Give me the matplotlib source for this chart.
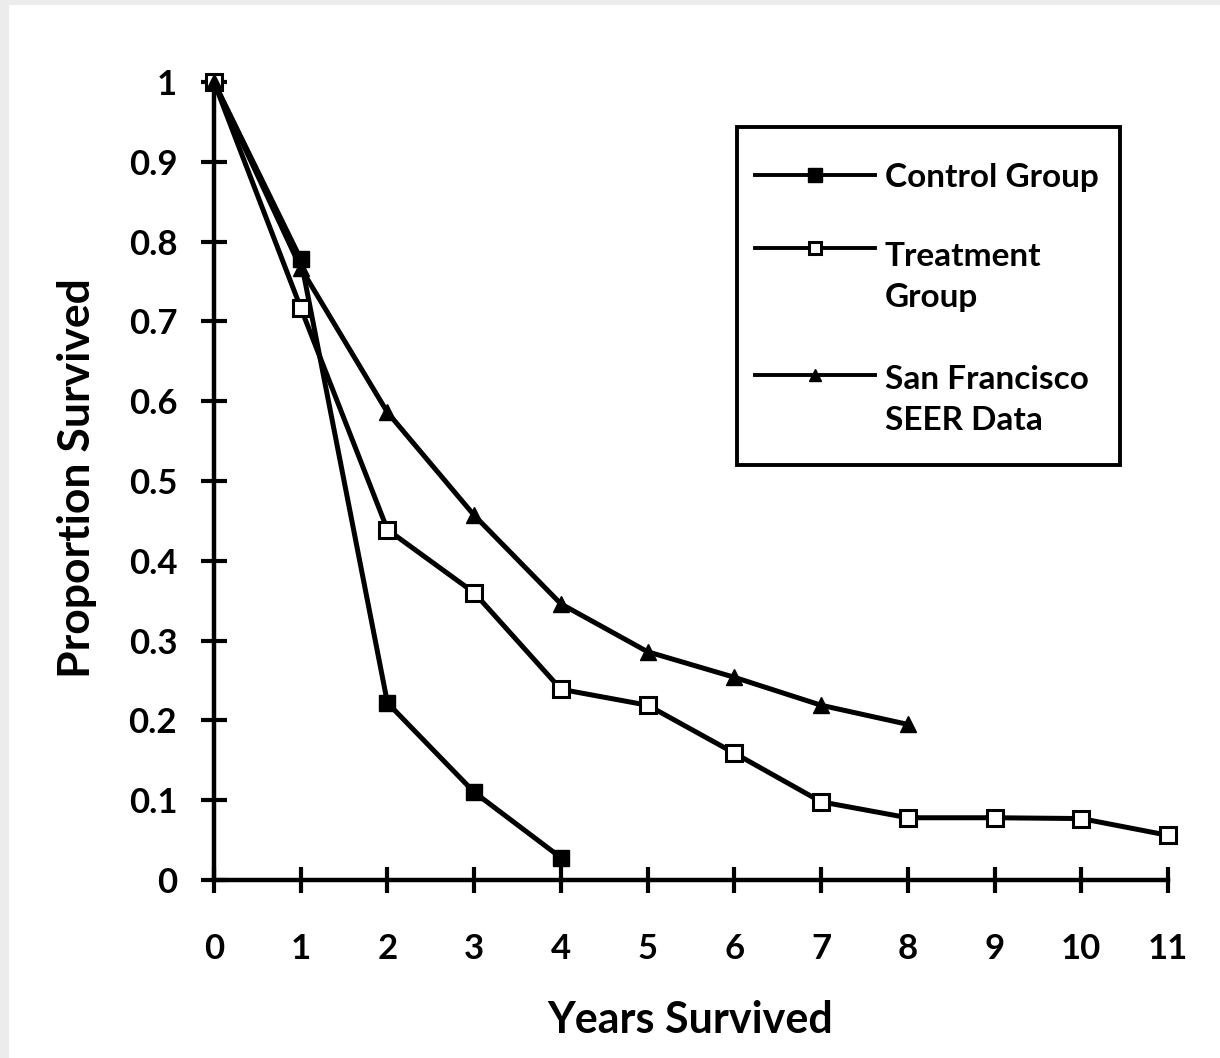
import numpy as np
import matplotlib
matplotlib.use("Agg")
import matplotlib.pyplot as plt
from matplotlib.patches import Rectangle
from matplotlib.lines import Line2D

plt.rcParams['font.family'] = ['Lato', 'DejaVu Sans']
plt.rcParams['font.weight'] = 'bold'
plt.rcParams['axes.labelweight'] = 'bold'

# data
years = list(range(12))
control = [1.0, 0.778, 0.222, 0.110, 0.028]
treatment = [1.0, 0.717, 0.439, 0.360, 0.239, 0.219, 0.159, 0.098, 0.078, 0.078, 0.077, 0.056]
seer = [1.0, 0.767, 0.586, 0.457, 0.346, 0.286, 0.254, 0.219, 0.195]
labels = ['Control Group', 'Treatment\nGroup', 'San Francisco\nSEER Data']
yticks = [0, 0.1, 0.2, 0.3, 0.4, 0.5, 0.6, 0.7, 0.8, 0.9, 1]
ytick_labels = ['0', '0.1', '0.2', '0.3', '0.4', '0.5', '0.6', '0.7', '0.8', '0.9', '1']

fig = plt.figure(figsize=(12.2, 10.58), dpi=100)
fig.patch.set_facecolor('#ececec')
fig.patches.append(Rectangle((9 / 1220, 0), 1, 1 - 5 / 1058, transform=fig.transFigure,
                             facecolor='white', edgecolor='none', zorder=-10))

ax = fig.add_axes([214 / 1220, 178 / 1058, 954 / 1220, 798 / 1058])
ax.set_facecolor('none')

styles = [
    dict(marker='s', markersize=12, markerfacecolor='black', markeredgecolor='black'),
    dict(marker='s', markersize=11, markerfacecolor='white', markeredgecolor='black', markeredgewidth=2.2),
    dict(marker='^', markersize=11, markerfacecolor='black', markeredgecolor='black'),
]
series = [control, treatment, seer]
for vals, st in zip(series, styles):
    ax.plot(years[:len(vals)], vals, color='black', lw=3.6, clip_on=False, zorder=3, **st)

ax.set_xlim(0, 11)
ax.set_ylim(0, 1)
ax.set_xticks(years)
ax.set_yticks(yticks)
ax.set_yticklabels(ytick_labels)
for s in ['top', 'right']:
    ax.spines[s].set_visible(False)
for s in ['left', 'bottom']:
    ax.spines[s].set_linewidth(3.2)
ax.tick_params(axis='both', direction='inout', length=19, width=3, labelsize=25)
ax.tick_params(axis='y', pad=17)
ax.tick_params(axis='x', pad=29)

ax.set_xlabel('Years Survived', fontsize=31, va='center')
ax.xaxis.set_label_coords(0.499, -0.175)
ax.set_ylabel('Proportion Survived', fontsize=32, va='center')
ax.yaxis.set_label_coords(-0.1436, 0.504)

# legend box drawn by hand so handles sit on the first text line
ax.add_patch(Rectangle((0.548, 0.520), 0.402, 0.424, transform=ax.transAxes,
                       facecolor='white', edgecolor='black', lw=2.8, clip_on=False, zorder=4))
handle_y = [0.883, 0.792, 0.633]
text_y = [0.898, 0.799, 0.645]
for lab, st, hy, ty in zip(labels, styles, handle_y, text_y):
    ax.add_line(Line2D([0.567, 0.693], [hy, hy], transform=ax.transAxes, color='black',
                       lw=2.8, clip_on=False, zorder=5))
    ax.add_line(Line2D([0.630], [hy], transform=ax.transAxes, color='black', lw=0,
                       clip_on=False, zorder=6, **{k: (v * 0.8 if k == 'markersize' else v) for k, v in st.items()}))
    ax.text(0.703, ty, lab, transform=ax.transAxes, fontsize=24, va='top', ha='left',
            linespacing=1.5, zorder=6)

fig.savefig('out.png', dpi=100, facecolor=fig.get_facecolor())
